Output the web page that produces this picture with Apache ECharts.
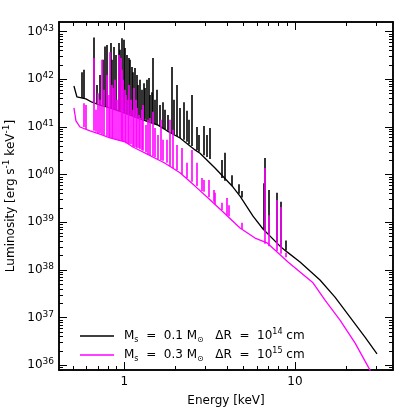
<!DOCTYPE html>
<html><head><meta charset="utf-8">
<script src="https://cdn.jsdelivr.net/npm/echarts@6/dist/echarts.min.js"></script>
<style>html,body{margin:0;padding:0;background:#fff}#c{width:415px;height:415px}</style>
</head><body><div id="c"></div>
<script>
// ---- data (energy in keV, luminosity as log10 of erg s^-1 keV^-1) ----
const blackE    = [0.507,0.528,0.596,0.647,0.720,0.824,1.01,1.236,1.575,1.779,2.120,2.596,2.777,3.399,4.334,4.763,5.675,6.495,8.169,8.979,10.70,14.01,17.15,21.00,25.71,30.23];
const blackLogL = [41.86,41.63,41.59,41.52,41.46,41.40,41.29,41.17,41.04,40.92,40.77,40.52,40.45,40.14,39.74,39.55,39.13,38.86,38.50,38.38,38.17,37.79,37.43,37.01,36.59,36.24];

const magentaE    = [0.507,0.521,0.550,0.630,0.720,0.824,1.01,1.124,1.400,1.713,2.120,2.596,3.051,3.890,4.763,5.832,6.855,9.10,10.70,12.75,14.99,18.35,22.46,27.51,28.26];
const magentaLogL = [41.40,41.13,41.00,40.92,40.85,40.77,40.69,40.58,40.41,40.25,40.04,39.76,39.53,39.18,38.88,38.67,38.57,38.17,37.96,37.73,37.37,36.95,36.47,35.90,35.69];

// emission lines: energy, base level, peak level
const blackLineE    = [0.565,0.581,0.662,0.771,0.792,0.828,0.862,0.922,0.966,0.987,1.033,1.055,1.080,1.105,1.151,1.182,1.231,1.292,1.346,1.382,1.447,1.473,1.612,1.685,1.885,2.028,2.112,2.216,2.308,2.469,2.656,2.903,3.039,3.147,3.721,3.890,4.258,4.654,4.872,6.521,6.672,6.976,7.812,8.278,8.822,
                       0.692,0.720,0.745,0.847,0.894,0.944,1.009,1.124,1.203,1.261,1.322,1.414,1.513,1.555,1.731,1.803,1.955,2.393,2.739];
const blackLineBase = [41.61,41.61,41.52,41.44,41.42,41.40,41.38,41.34,41.32,41.32,41.29,41.27,41.27,41.25,41.23,41.21,41.19,41.15,41.13,41.11,41.08,41.08,41.02,40.98,40.87,40.81,40.77,40.73,40.69,40.60,40.52,40.41,40.37,40.33,39.93,39.87,39.76,39.60,39.52,38.85,38.81,38.75,38.58,38.48,38.41,
                       41.50,41.46,41.46,41.40,41.36,41.34,41.29,41.23,41.19,41.17,41.15,41.11,41.06,41.04,40.96,40.92,40.85,40.64,40.48];
const blackLinePeak = [42.15,42.20,42.88,42.69,42.72,42.76,42.68,42.76,42.86,42.83,42.51,42.45,42.41,42.26,42.24,42.09,41.99,41.92,41.99,42.03,41.73,42.45,41.46,41.52,42.26,41.88,41.40,41.52,41.34,41.67,41.00,41.02,40.83,40.98,40.31,40.46,39.99,39.80,39.66,39.82,40.35,39.68,39.62,39.43,38.62,
                       41.88,42.09,42.41,42.41,42.51,42.62,42.66,42.15,41.88,41.78,41.82,41.67,41.57,41.78,41.36,41.25,41.57,41.15,40.83];

const magentaLineE    = [0.575,0.596,0.660,0.697,0.737,0.760,0.789,0.824,0.859,0.882,0.922,0.950,0.983,1.023,1.065,1.094,1.140,1.187,1.236,1.287,1.340,1.414,1.473,1.575,1.685,1.853,2.028,2.169,2.320,2.482,2.656,2.840,2.903,3.105,3.322,3.399,3.721,3.980,4.066,4.872,6.672,6.976,7.812,8.278,8.822,
                         0.683,0.716,0.808,0.841,0.906,0.969,1.003,1.044,1.117,1.163,1.211,1.261,1.377,1.513,1.630,1.767,1.929];
const magentaLineBase = [41.00,40.96,40.92,40.87,40.85,40.83,40.81,40.77,40.75,40.75,40.71,40.71,40.69,40.66,40.64,40.64,40.58,40.56,40.54,40.50,40.47,40.41,40.39,40.33,40.29,40.18,40.10,40.01,39.93,39.85,39.76,39.66,39.64,39.53,39.43,39.38,39.26,39.15,39.13,38.86,38.55,38.50,38.40,38.34,38.27,
                         40.90,40.87,40.79,40.77,40.73,40.71,40.69,40.66,40.60,40.58,40.56,40.52,40.43,40.37,40.31,40.25,40.14];
const magentaLinePeak = [41.50,41.46,42.45,41.71,42.41,41.78,42.09,42.57,41.82,41.99,42.51,42.45,41.99,41.67,41.88,41.57,41.82,41.40,41.19,41.46,41.04,41.19,41.32,40.83,40.73,41.15,40.62,40.56,40.25,40.52,40.25,39.93,39.89,39.89,39.68,39.62,39.41,39.51,39.36,38.99,40.14,39.15,39.47,39.32,38.36,
                         41.36,41.57,41.67,41.88,41.57,42.20,41.78,41.57,41.36,41.57,41.25,41.36,41.15,40.98,41.15,40.73,40.94];

// axis ticks
const xMajorTicks = [1, 10];
const xMinorTicks = [0.5,0.6,0.7,0.8,0.9,2,3,4,5,6,7,8,9,20,30];
const yMajorExp   = [36,37,38,39,40,41,42,43];
const yMinorMant  = [2,3,4,5,6,7,8,9];

const seriesNames = ['b','m'];
const legendText = {
  b: '{a|M}{sub|s}{a|  =  0.1 M}{sub|⊙}{a|   ΔR  =  10}{sup|14}{a| cm}',
  m: '{a|M}{sub|s}{a|  =  0.3 M}{sub|⊙}{a|   ΔR  =  10}{sup|15}{a| cm}'
};

// ---- build ----
const lg = Math.log10;
const X0 = -0.3825, X1 = 1.5741, Y0 = 35.902, Y1 = 43.203;
const FONT = 'DejaVu Sans';
const xMaj = xMajorTicks.map(lg);
const xMin = xMinorTicks.map(lg);
const yMin = [];
for (let n = 35; n <= 43; n++) for (const k of yMinorMant) { const v = n + lg(k); if (v > Y0 && v < Y1) yMin.push(v); }

function xAx(pos, ticks, len, labels, name) {
  const a = {
    type: 'value', position: pos, min: X0, max: X1,
    axisLine: {show: true, onZero: false, lineStyle: {color: '#000', width: 1.5}},
    axisTick: {show: true, inside: true, length: len, customValues: ticks, lineStyle: {color: '#000', width: 1}},
    axisLabel: {show: !!labels},
    splitLine: {show: false}
  };
  if (labels) {
    a.axisLabel = {show: true, customValues: ticks, margin: 6, color: '#000', fontFamily: FONT, fontSize: 12,
      formatter: v => String(Math.round(Math.pow(10, v)))};
  }
  if (name) {
    a.name = name; a.nameLocation = 'middle'; a.nameGap = 25;
    a.nameTextStyle = {color: '#000', fontFamily: FONT, fontSize: 12};
  }
  return a;
}
function yAx(pos, ticks, len, labels, name) {
  const a = {
    type: 'value', position: pos, min: Y0, max: Y1,
    axisLine: {show: true, onZero: false, lineStyle: {color: '#000', width: 1.5}},
    axisTick: {show: true, inside: true, length: len, customValues: ticks, lineStyle: {color: '#000', width: 1}},
    axisLabel: {show: false},
    splitLine: {show: false}
  };
  if (labels) {
    a.axisLabel = {show: true, customValues: ticks, margin: 5, color: '#000',
      formatter: v => '{b|10}{s|' + Math.round(v) + '}',
      rich: {b: {fontFamily: FONT, fontSize: 12, lineHeight: 16, color: '#000'},
             s: {fontFamily: FONT, fontSize: 9, lineHeight: 11, verticalAlign: 'top', color: '#000'}}};
  }
  if (name) {
    a.name = name; a.nameLocation = 'middle'; a.nameGap = 37; a.nameRotate = 90;
    a.nameTextStyle = {color: '#000', rich: {
      n: {fontFamily: FONT, fontSize: 12, lineHeight: 16, color: '#000'},
      sup: {fontFamily: FONT, fontSize: 9, lineHeight: 11, verticalAlign: 'top', color: '#000'}}};
  }
  return a;
}

const spikes = (E, B, P) => E.map((e, i) => ({coords: [[lg(e), B[i]], [lg(e), P[i]]]}));

const chart = echarts.init(document.getElementById('c'), null, {renderer: 'canvas'});
chart.setOption({
  animation: false,
  backgroundColor: '#fff',
  grid: {left: 59, right: 22, top: 22, bottom: 45, outerBoundsMode: 'none', containLabel: false},
  xAxis: [
    xAx('bottom', xMaj, 8, true, 'Energy [keV]'),
    xAx('bottom', xMin, 4, false),
    xAx('top', xMaj, 8, false),
    xAx('top', xMin, 4, false)
  ],
  yAxis: [
    yAx('left', yMajorExp, 8, true, '{n|Luminosity [erg s}{sup|-1}{n| keV}{sup|-1}{n|]}'),
    yAx('left', yMin, 4, false),
    yAx('right', yMajorExp, 8, false),
    yAx('right', yMin, 4, false)
  ],
  legend: {
    data: seriesNames, orient: 'vertical', left: 75, top: 323, itemWidth: 34, itemHeight: 1.5, itemGap: 3,
    icon: 'rect', selectedMode: false,
    formatter: n => legendText[n],
    textStyle: {color: '#000', padding: [0, 0, 0, 5], rich: {
      a: {fontFamily: FONT, fontSize: 12, lineHeight: 16, color: '#000'},
      sub: {fontFamily: FONT, fontSize: 8, lineHeight: 9, verticalAlign: 'bottom', color: '#000'},
      sup: {fontFamily: FONT, fontSize: 8, lineHeight: 10, verticalAlign: 'top', color: '#000'}}}
  },
  series: [
    {type: 'line', name: 'b', data: blackE.map((e, i) => [lg(e), blackLogL[i]]), symbol: 'none', showSymbol: false,
     lineStyle: {color: '#000', width: 1.3}, itemStyle: {color: '#000'}, clip: true, z: 2},
    {type: 'lines', coordinateSystem: 'cartesian2d', data: spikes(blackLineE, blackLineBase, blackLinePeak),
     lineStyle: {color: '#000', width: 1.6, opacity: 1}, silent: true, z: 2},
    {type: 'line', name: 'm', data: magentaE.map((e, i) => [lg(e), magentaLogL[i]]), symbol: 'none', showSymbol: false,
     lineStyle: {color: '#ff00ff', width: 1.3}, itemStyle: {color: '#ff00ff'}, clip: true, z: 3},
    {type: 'lines', coordinateSystem: 'cartesian2d', data: spikes(magentaLineE, magentaLineBase, magentaLinePeak),
     lineStyle: {color: '#ff00ff', width: 1.6, opacity: 1}, silent: true, z: 3}
  ]
});
</script></body></html>
